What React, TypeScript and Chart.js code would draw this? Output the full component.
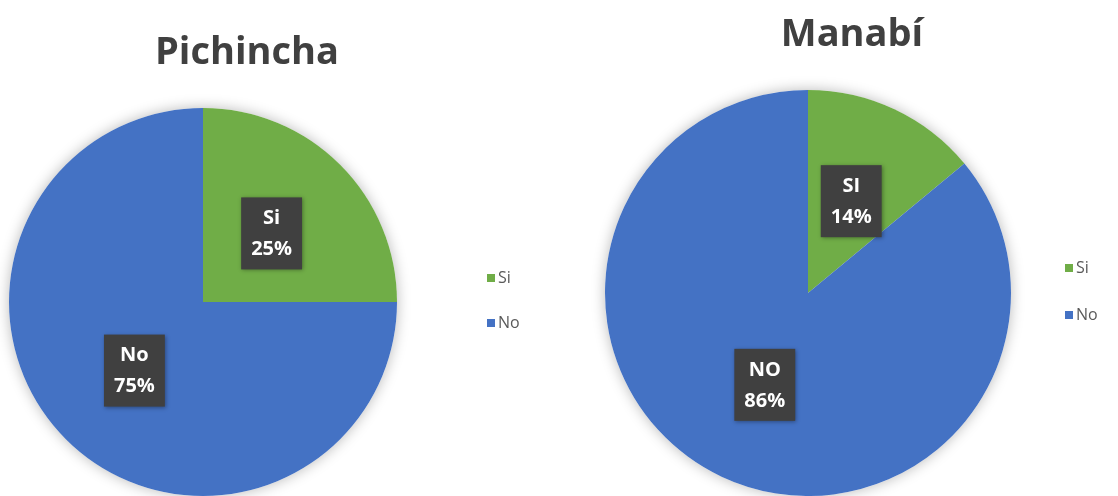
import React, { useEffect, useRef } from "react";
import { Chart, registerables } from "chart.js";

Chart.register(...registerables);

const categories = ["Si", "No"];
const pichinchaValues = [25, 75];
const pichinchaLabels = ["Si", "No"];
const manabiValues = [14, 86];
const manabiLabels = ["SI", "NO"];
const colors = ["#70AD47", "#4472C4"];
const titles = ["Pichincha", "Manabí"];

type Cfg = {
  title: string;
  values: number[];
  labels: string[];
  padding: { left: number; top: number; right: number; bottom: number };
  titleX: number;
  titleY: number;
  legendX: number;
  legendY: number[];
};

const CW = 559;
const CH = 496;

function makePlugin(cfg: Cfg) {
  return {
    id: "custom-" + cfg.title,
    beforeDatasetsDraw(chart: any) {
      const meta = chart.getDatasetMeta(0);
      const arc = meta.data[0];
      if (!arc) return;
      const { x, y, outerRadius } = arc.getProps(["x", "y", "outerRadius"], true);
      const ctx = chart.ctx;
      ctx.save();
      ctx.shadowColor = "rgba(0,0,0,0.28)";
      ctx.shadowBlur = 14;
      ctx.beginPath();
      ctx.arc(x, y, outerRadius, 0, Math.PI * 2);
      ctx.fillStyle = "#ffffff";
      ctx.fill();
      ctx.restore();
    },
    afterDatasetsDraw(chart: any) {
      const ctx = chart.ctx;
      const meta = chart.getDatasetMeta(0);
      const total = cfg.values.reduce((a, b) => a + b, 0);
      meta.data.forEach((el: any, i: number) => {
        const p = el.getProps(["x", "y", "startAngle", "endAngle", "outerRadius"], true);
        const mid = (p.startAngle + p.endAngle) / 2;
        const cx = p.x + Math.cos(mid) * p.outerRadius * 0.5;
        const cy = p.y + Math.sin(mid) * p.outerRadius * 0.5;
        const l1 = cfg.labels[i];
        const l2 = Math.round((cfg.values[i] / total) * 100) + "%";
        ctx.save();
        ctx.font = "bold 20px 'Open Sans'";
        const w = Math.max(ctx.measureText(l1).width, ctx.measureText(l2).width) + 20;
        const h = 72;
        ctx.shadowColor = "rgba(0,0,0,0.35)";
        ctx.shadowBlur = 4;
        ctx.shadowOffsetX = 1;
        ctx.shadowOffsetY = 1;
        ctx.fillStyle = "#404040";
        ctx.fillRect(cx - w / 2, cy - h / 2, w, h);
        ctx.restore();
        ctx.save();
        ctx.font = "bold 20px 'Open Sans'";
        ctx.fillStyle = "#ffffff";
        ctx.textAlign = "center";
        ctx.textBaseline = "middle";
        ctx.fillText(l1, cx, cy - 15);
        ctx.fillText(l2, cx, cy + 16);
        ctx.restore();
      });
    },
    afterDraw(chart: any) {
      const ctx = chart.ctx;
      ctx.save();
      ctx.font = "bold 38px 'Open Sans'";
      ctx.fillStyle = "#404040";
      ctx.textAlign = "center";
      ctx.textBaseline = "alphabetic";
      ctx.fillText(cfg.title, cfg.titleX, cfg.titleY);
      ctx.font = "16px 'Open Sans'";
      ctx.textAlign = "left";
      ctx.textBaseline = "middle";
      categories.forEach((c, i) => {
        const ly = cfg.legendY[i];
        ctx.fillStyle = colors[i];
        ctx.fillRect(cfg.legendX, ly - 4, 8, 8);
        ctx.fillStyle = "#595959";
        ctx.fillText(c, cfg.legendX + 11, ly);
      });
      ctx.restore();
    },
  };
}

function PieChart({ cfg, left }: { cfg: Cfg; left: number }) {
  const ref = useRef<HTMLCanvasElement>(null);
  useEffect(() => {
    if (!ref.current) return;
    const chart = new Chart(ref.current, {
      type: "pie",
      data: {
        labels: categories,
        datasets: [
          {
            data: cfg.values,
            backgroundColor: colors,
            borderWidth: 0,
          },
        ],
      },
      options: {
        responsive: false,
        animation: false,
        layout: { padding: cfg.padding },
        plugins: {
          legend: { display: false },
          title: { display: false },
          tooltip: { enabled: false },
        },
      },
      plugins: [makePlugin(cfg)],
    });
    return () => chart.destroy();
  }, []);
  return (
    <canvas
      ref={ref}
      width={CW}
      height={CH}
      style={{ position: "absolute", left, top: 0, width: CW, height: CH }}
    />
  );
}

const leftCfg: Cfg = {
  title: titles[0],
  values: pichinchaValues,
  labels: pichinchaLabels,
  padding: { left: 9, top: 108, right: CW - 397, bottom: 0 },
  titleX: 247,
  titleY: 64,
  legendX: 487,
  legendY: [278, 323],
};

const rightCfg: Cfg = {
  title: titles[1],
  values: manabiValues,
  labels: manabiLabels,
  padding: { left: 45, top: 90, right: CW - 453, bottom: -2 },
  titleX: 293,
  titleY: 46,
  legendX: 506,
  legendY: [268, 315],
};

export default function App() {
  return (
    <div
      style={{
        position: "fixed",
        left: 0,
        top: 0,
        width: 1118,
        height: 496,
        background: "#ffffff",
        overflow: "hidden",
      }}
    >
      <PieChart cfg={leftCfg} left={0} />
      <PieChart cfg={rightCfg} left={559} />
    </div>
  );
}
